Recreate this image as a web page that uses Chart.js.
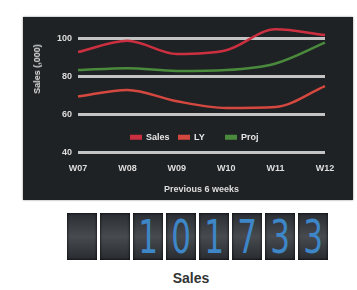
<!DOCTYPE html>
<html>
<head>
<meta charset="utf-8">
<script src="https://cdn.jsdelivr.net/npm/chart.js@4/dist/chart.umd.min.js"></script>
<style>
  body { margin: 0; background: #fff; width: 357px; height: 290px; position: relative; overflow: hidden; font-family: "Liberation Sans", Arial, sans-serif; }
  #panel { position: absolute; left: 23px; top: 17px; width: 330px; height: 183px; background: #1f2225; box-shadow: 0 0 2px #888; }
  #ytitle { position: absolute; left: 37px; top: 69px; transform: translate(-50%, -50%) rotate(-90deg); color: #ddd; font-weight: bold; font-size: 9px; white-space: nowrap; }
  #counter { position: absolute; left: 67px; top: 213px; display: flex; gap: 3px; }
  .digit { width: 30px; height: 47px; background: linear-gradient(#2a2d31, #474b50 50%, #282b2f); box-shadow: inset 0 0 3px #000; color: #3d86c8; font-family: "Liberation Sans Narrow", "DejaVu Sans Condensed", sans-serif; font-size: 46px; line-height: 49px; text-align: center; overflow: hidden; }
  .digit span { display: inline-block; transform: scaleX(0.75); }
  #label { position: absolute; left: 0; width: 382px; top: 270px; text-align: center; font-weight: bold; font-size: 14px; color: #333; }
</style>
</head>
<body>
<div id="panel"><canvas id="salesChart" width="330" height="183"></canvas></div>
<div id="ytitle">Sales (,000)</div>
<div id="counter"></div>
<div id="label">Sales</div>
<script>
// weekly sales data
const weeks = ['W07', 'W08', 'W09', 'W10', 'W11', 'W12'];
const sales = [93, 99, 92, 94, 105, 102];
const lastYear = [69.5, 73, 67, 63.5, 64, 75];
const projection = [83.5, 84.5, 83, 83.5, 87, 98];
const yTicks = [40, 60, 80, 100];
const totalSales = '  101733';

// odometer under the chart
const counter = document.getElementById('counter');
for (const ch of totalSales) {
    const d = document.createElement('div');
    d.className = 'digit';
    const s = document.createElement('span');
    s.textContent = ch.trim();
    d.appendChild(s);
    counter.appendChild(d);
}

// legend drawn inside the plot, just above the 40 line
const innerLegend = {
    id: 'innerLegend',
    afterDatasetsDraw(chart) {
        const ctx = chart.ctx;
        const y = chart.scales.y.getPixelForValue(48);
        const xs = [107, 155, 202];
        ctx.save();
        ctx.font = 'bold 9px "Liberation Sans", Arial, sans-serif';
        ctx.textBaseline = 'middle';
        chart.data.datasets.forEach((ds, i) => {
            ctx.fillStyle = ds.borderColor;
            ctx.fillRect(xs[i], y - 2.5, 12, 5);
            ctx.fillStyle = '#e6e6e6';
            ctx.fillText(ds.label, xs[i] + 16, y);
        });
        ctx.restore();
    }
};

const ctx = document.getElementById('salesChart').getContext('2d');
new Chart(ctx, {
    type: 'line',
    data: {
        labels: weeks,
        datasets: [
            { label: 'Sales', data: sales, borderColor: '#cc3040', borderWidth: 2.5, clip: false },
            { label: 'LY', data: lastYear, borderColor: '#d4483f', borderWidth: 2.5, clip: false },
            { label: 'Proj', data: projection, borderColor: '#4a8a3c', borderWidth: 2.5, clip: false }
        ]
    },
    options: {
        responsive: false,
        animation: false,
        layout: { padding: { left: 28, right: 28, top: -3, bottom: 1 } },
        elements: { point: { radius: 0 }, line: { tension: 0.4, cubicInterpolationMode: 'monotone' } },
        plugins: { legend: { display: false }, tooltip: { enabled: false } },
        scales: {
            x: {
                offset: false,
                grid: { display: false },
                border: { display: false },
                ticks: { color: '#dddddd', font: { size: 9, weight: 'bold' }, padding: 3 },
                title: { display: true, text: 'Previous 6 weeks', color: '#dddddd', font: { size: 9, weight: 'bold' }, padding: { top: 7 } }
            },
            y: {
                min: 40,
                max: 105.5,
                afterBuildTicks: scale => { scale.ticks = yTicks.map(v => ({ value: v })); },
                grid: { color: '#c4c4c4', lineWidth: 3, drawTicks: false },
                border: { display: false },
                ticks: { color: '#dddddd', font: { size: 9, weight: 'bold' }, padding: 6 }
            }
        }
    },
    plugins: [innerLegend]
});
</script>
</body>
</html>
